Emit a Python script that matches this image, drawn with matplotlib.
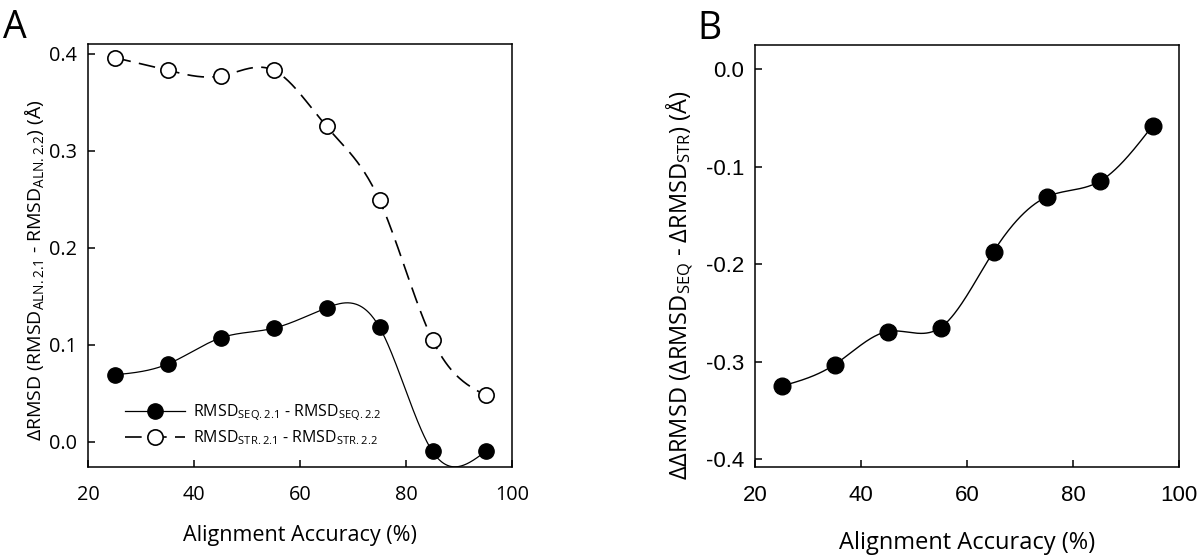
import numpy as np
import matplotlib
matplotlib.use("Agg")
import matplotlib.pyplot as plt

plt.rcParams['mathtext.fontset'] = 'custom'
plt.rcParams['mathtext.rm'] = 'Open Sans'
plt.rcParams['mathtext.it'] = 'Open Sans'
plt.rcParams['mathtext.bf'] = 'Open Sans'
plt.rcParams['mathtext.default'] = 'rm'

# ---------------- data ----------------
accuracy = [25, 35, 45, 55, 65, 75, 85, 95]
seq_diff = [0.069, 0.080, 0.107, 0.117, 0.138, 0.118, -0.010, -0.010]
str_diff = [0.396, 0.383, 0.377, 0.383, 0.325, 0.249, 0.105, 0.048]
ddrmsd = [-0.325, -0.303, -0.269, -0.265, -0.187, -0.131, -0.115, -0.058]

a_yticks = [0.0, 0.1, 0.2, 0.3, 0.4]
b_yticks = [-0.4, -0.3, -0.2, -0.1, 0.0]
x_ticks = [20, 40, 60, 80, 100]


def natural_spline(x, y, n=400):
    x = np.asarray(x, float)
    y = np.asarray(y, float)
    k = len(x)
    h = np.diff(x)
    A = np.zeros((k, k))
    r = np.zeros(k)
    A[0, 0] = 1
    A[-1, -1] = 1
    for i in range(1, k - 1):
        A[i, i - 1] = h[i - 1]
        A[i, i] = 2 * (h[i - 1] + h[i])
        A[i, i + 1] = h[i]
        r[i] = 6 * ((y[i + 1] - y[i]) / h[i] - (y[i] - y[i - 1]) / h[i - 1])
    M = np.linalg.solve(A, r)
    xs = np.linspace(x[0], x[-1], n)
    idx = np.clip(np.searchsorted(x, xs) - 1, 0, k - 2)
    x0, x1 = x[idx], x[idx + 1]
    hh = x1 - x0
    t0 = x1 - xs
    t1 = xs - x0
    ys = (M[idx] * t0 ** 3 / (6 * hh) + M[idx + 1] * t1 ** 3 / (6 * hh)
          + (y[idx] / hh - M[idx] * hh / 6) * t0
          + (y[idx + 1] / hh - M[idx + 1] * hh / 6) * t1)
    return xs, ys


fig = plt.figure(figsize=(12, 5.59), dpi=100)
axA = fig.add_axes([88 / 1200, 1 - 467 / 559, 424 / 1200, 423 / 559])
axB = fig.add_axes([755 / 1200, 1 - 467 / 559, 424 / 1200, 422 / 559])

DASH = (10, 5)

# ---- panel A ----
xs, ys = natural_spline(accuracy, seq_diff)
axA.plot(xs, ys, color='black', lw=0.9)
xs2, ys2 = natural_spline(accuracy, str_diff)
axA.plot(xs2, ys2, color='black', lw=1.2, dashes=DASH)
axA.plot(accuracy, seq_diff, 'o', color='black', ms=11, zorder=3)
axA.plot(accuracy, str_diff, 'o', mfc='white', mec='black', mew=1.2, ms=11, zorder=3)

h1, = axA.plot([], [], color='black', lw=0.9, marker='o', ms=11)
h2, = axA.plot([], [], color='black', lw=1.2, dashes=DASH, marker='o',
               mfc='white', mec='black', mew=1.2, ms=11)
leg = axA.legend([h1, h2],
                 [r'RMSD$_{\mathrm{SEQ.2.1}}$ - RMSD$_{\mathrm{SEQ.2.2}}$',
                  r'RMSD$_{\mathrm{STR.2.1}}$ - RMSD$_{\mathrm{STR.2.2}}$'],
                 loc='lower left', bbox_to_anchor=(0.06, 0.02), frameon=False,
                 prop={'family': 'Open Sans', 'size': 11.5}, handlelength=3.8,
                 handletextpad=0.5, labelspacing=0.35, borderpad=0.2)

axA.set_xlim(20, 100)
axA.set_ylim(-0.026, 0.41)
axA.set_yticks(a_yticks)
axA.set_yticklabels([f'{v:.1f}' for v in a_yticks])
axA.set_xticks(x_ticks)
axA.set_xticklabels([str(v) for v in x_ticks])
for lab in axA.get_xticklabels() + axA.get_yticklabels():
    lab.set_fontfamily('Open Sans')
    lab.set_fontsize(14.3)
axA.set_xlabel('Alignment Accuracy (%)', fontfamily='Open Sans', fontsize=15.5)
axA.set_ylabel('ΔRMSD (RMSD$_{\\mathrm{ALN.2.1}}$ - RMSD$_{\\mathrm{ALN.2.2}}$) (Å)',
               fontfamily='Open Sans', fontsize=14)
axA.xaxis.set_label_coords(0.5, -(525 - 467) / 423, transform=axA.transAxes)
axA.xaxis.label.set_va('top')
axA.yaxis.set_label_coords(-(88 - 46) / 424, (467 - 270) / 423)

# ---- panel B ----
xb, yb = natural_spline(accuracy, ddrmsd)
axB.plot(xb, yb, color='black', lw=1.0)
axB.plot(accuracy, ddrmsd, 'o', color='black', ms=12, zorder=3)
axB.set_xlim(20, 100)
axB.set_ylim(-0.408, 0.025)
axB.set_yticks(b_yticks)
axB.set_yticklabels([f'{v:.1f}' for v in b_yticks])
axB.set_xticks(x_ticks)
axB.set_xticklabels([str(v) for v in x_ticks])
for lab in axB.get_xticklabels() + axB.get_yticklabels():
    lab.set_fontfamily('Liberation Sans')
    lab.set_fontsize(16)
axB.set_xlabel('Alignment Accuracy (%)', fontfamily='Open Sans', fontsize=17)
axB.set_ylabel('ΔΔRMSD (ΔRMSD$_{\\mathrm{SEQ}}$ - ΔRMSD$_{\\mathrm{STR}}$) (Å)',
               fontfamily='Open Sans', fontsize=17)
axB.xaxis.set_label_coords(0.5, -(531 - 467) / 422, transform=axB.transAxes)
axB.xaxis.label.set_va('top')
axB.yaxis.set_label_coords(-(755 - 696) / 424, (467 - 285) / 422)

for ax in (axA, axB):
    for s in ax.spines.values():
        s.set_linewidth(1.1)
    ax.tick_params(direction='in', length=5, width=1.1, top=False, right=False)
    ax.tick_params(axis='y', pad=8)
    ax.tick_params(axis='x', pad=13)

fig.text(3 / 1200, 1 - 38 / 559, 'A', fontfamily='Open Sans', fontsize=27)
fig.text(697 / 1200, 1 - 39 / 559, 'B', fontfamily='Open Sans', fontsize=27)

fig.savefig('out.png', dpi=100)
